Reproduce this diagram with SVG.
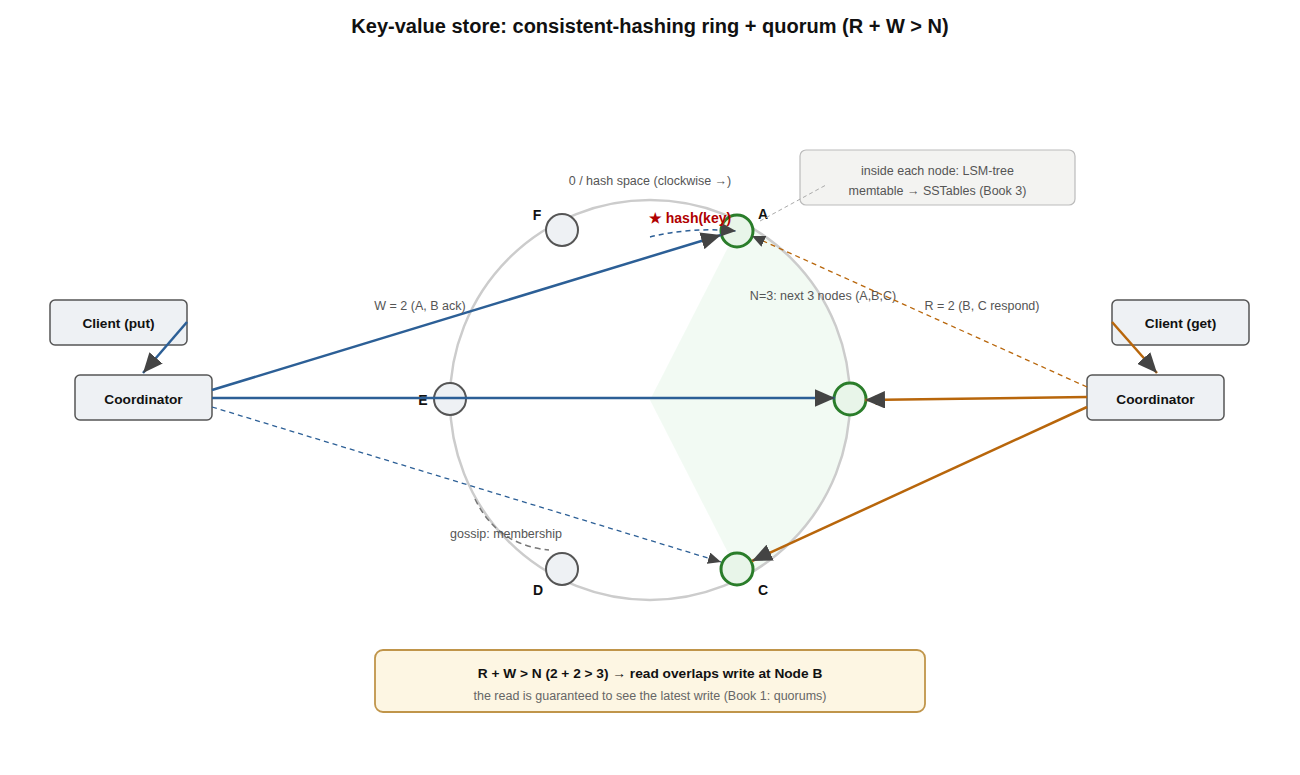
<svg xmlns="http://www.w3.org/2000/svg" width="1300" height="775" viewBox="0 0 1300 775">
<defs>
<style>
text{font-family:"Liberation Sans",Arial,sans-serif}
.title{font-size:20px;font-weight:bold;fill:#111}
.box{fill:#eef1f4;stroke:#555;stroke-width:1.5}
.blabel{font-size:13.7px;font-weight:bold;fill:#111}
.lbl{font-size:12.5px;fill:#555}
.nl{font-size:14px;font-weight:bold;fill:#111}
.gnode{fill:#eef1f4;stroke:#555;stroke-width:2}
.rnode{fill:#e8f5e9;stroke:#2a7d2a;stroke-width:3}
.blue{stroke:#2c5f96;fill:none}
.orange{stroke:#b8660b;fill:none}
</style>
<marker id="ah" viewBox="0 0 10 10" refX="10" refY="5" markerWidth="8" markerHeight="7" orient="auto" markerUnits="strokeWidth" preserveAspectRatio="none"><path d="M0,0 L10,5 L0,10 z" fill="#444"/></marker>
<marker id="ahs" viewBox="0 0 10 10" refX="10" refY="5" markerWidth="10" markerHeight="9" orient="auto" markerUnits="strokeWidth" preserveAspectRatio="none"><path d="M0,0 L10,5 L0,10 z" fill="#444"/></marker>
</defs>
<rect width="1300" height="775" fill="#fff"/>
<text class="title" x="650" y="33" text-anchor="middle">Key-value store: consistent-hashing ring + quorum (R + W &gt; N)</text>

<g id="ring">
<path d="M650,400 L741,222 A200,200 0 0 1 741,578 Z" fill="#e8f5e9" opacity="0.55"/>
<circle cx="650" cy="400" r="200" fill="none" stroke="#ccc" stroke-width="2.5"/>
<text class="lbl" x="650" y="185" text-anchor="middle">0 / hash space (clockwise →)</text>
<text class="lbl" x="823" y="300" text-anchor="middle">N=3: next 3 nodes (A,B,C)</text>
</g>

<g id="node-F"><circle class="gnode" cx="562" cy="230" r="16"/><text class="nl" x="537" y="220" text-anchor="middle">F</text></g>
<g id="node-A"><circle class="rnode" cx="737" cy="231" r="16"/><text class="nl" x="763" y="219" text-anchor="middle">A</text></g>
<g id="node-E"><circle class="gnode" cx="450" cy="399" r="16"/><text class="nl" x="423" y="405" text-anchor="middle">E</text></g>
<g id="node-B"><circle class="rnode" cx="850" cy="399" r="16"/><text class="nl" x="880" y="405" text-anchor="middle">B</text></g>
<g id="node-D"><circle class="gnode" cx="562" cy="569" r="16"/><text class="nl" x="538" y="595" text-anchor="middle">D</text></g>
<g id="node-C"><circle class="rnode" cx="737" cy="569" r="16"/><text class="nl" x="763" y="595" text-anchor="middle">C</text></g>

<g id="client-put"><rect class="box" x="50" y="300" width="137" height="45" rx="5"/><text class="blabel" x="118.5" y="327.5" text-anchor="middle">Client (put)</text></g>
<g id="coord-left"><rect class="box" x="75" y="375" width="137" height="45" rx="5"/><text class="blabel" x="143.5" y="403.5" text-anchor="middle">Coordinator</text></g>
<g id="client-get"><rect class="box" x="1112" y="300" width="137" height="45" rx="5"/><text class="blabel" x="1180.5" y="327.5" text-anchor="middle">Client (get)</text></g>
<g id="coord-right"><rect class="box" x="1087" y="375" width="137" height="45" rx="5"/><text class="blabel" x="1155.5" y="403.5" text-anchor="middle">Coordinator</text></g>

<g id="note-lsm"><rect x="800" y="150" width="275" height="55" rx="6" fill="#f3f3f1" stroke="#bbb" stroke-width="1.2"/><text class="lbl" x="937.5" y="175" text-anchor="middle">inside each node: LSM-tree</text><text class="lbl" x="937.5" y="194.5" text-anchor="middle">memtable → SSTables (Book 3)</text></g>

<g id="quorum-box"><rect x="375" y="650" width="550" height="62" rx="8" fill="#fdf6e3" stroke="#c0954a" stroke-width="1.8"/><text x="650" y="677.5" text-anchor="middle" style="font-size:13.7px;font-weight:bold;fill:#111">R + W &gt; N (2 + 2 &gt; 3) → read overlaps write at Node B</text><text x="650" y="699.5" text-anchor="middle" style="font-size:12.5px;fill:#666">the read is guaranteed to see the latest write (Book 1: quorums)</text></g>

<g id="connectors">
<path class="blue" d="M187,322 L143,373" stroke-width="2.5" marker-end="url(#ah)"/>
<path class="blue" d="M212,390 L721,235" stroke-width="2.5" marker-end="url(#ah)"/>
<path class="blue" d="M212,398 L835,398" stroke-width="2.5" marker-end="url(#ah)"/>
<path class="blue" d="M212,407 L721,562" stroke-width="1.3" stroke-dasharray="5,4" marker-end="url(#ahs)"/>
<path class="blue" d="M650,237 Q690,227 736,231" stroke-width="1.5" stroke-dasharray="5,4" marker-end="url(#ahs)"/>
<path class="orange" d="M1112,322 L1157,373" stroke-width="2.5" marker-end="url(#ah)"/>
<path class="orange" d="M1087,397 L865,400" stroke-width="2.5" marker-end="url(#ah)"/>
<path class="orange" d="M1087,407 L752,561" stroke-width="2.5" marker-end="url(#ah)"/>
<path class="orange" d="M1087,387 L752,236" stroke-width="1.3" stroke-dasharray="5,4" marker-end="url(#ahs)"/>
<path d="M760,221 L826,185" fill="none" stroke="#aaa" stroke-width="1" stroke-dasharray="4,3"/>
<path d="M475,499 Q497,545 549,550" fill="none" stroke="#777" stroke-width="1.5" stroke-dasharray="6,4"/>
<text class="lbl" x="420" y="310" text-anchor="middle">W = 2 (A, B ack)</text>
<text class="lbl" x="982" y="310" text-anchor="middle">R = 2 (B, C respond)</text>
<text class="lbl" x="506" y="538" text-anchor="middle">gossip: membership</text>
<text x="690" y="223" text-anchor="middle" style="font-size:14px;font-weight:bold;fill:#b00000">★ hash(key)</text>
</g>
</svg>
